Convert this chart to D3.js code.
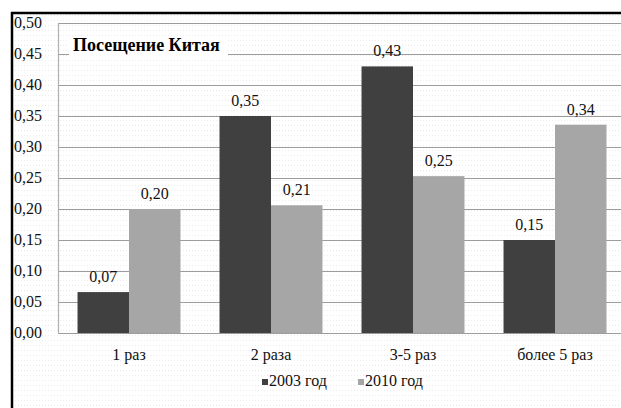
<!DOCTYPE html>
<html>
<head>
<meta charset="utf-8">
<script src="https://cdn.jsdelivr.net/npm/d3@7"></script>
<style>
  html, body { margin: 0; padding: 0; background: #fff; }
</style>
</head>
<body>
<script>
// Chart data
const categories = ["1 раз", "2 раза", "3-5 раз", "более 5 раз"];
const seriesNames = ["2003 год", "2010 год"];
const values2003 = [0.066, 0.35, 0.43, 0.15];
const values2010 = [0.20, 0.206, 0.253, 0.336];
const yTicks = [0, 0.05, 0.10, 0.15, 0.20, 0.25, 0.30, 0.35, 0.40, 0.45, 0.50];
const colors = ["#404040", "#a6a6a6"];

const width = 621, height = 408;
const plotLeft = 58, plotRight = 626, plotTop = 23, plotBottom = 333;
const serif = '"Liberation Serif", serif';

const fmt = d3.formatLocale({ decimal: ",", thousands: " ", grouping: [3], currency: ["", ""] }).format(".2f");

const svg = d3.select("body").append("svg")
    .attr("width", width)
    .attr("height", height);

// faint dotted background
const defs = svg.append("defs");
const pat = defs.append("pattern")
    .attr("id", "dots")
    .attr("width", 3).attr("height", 5)
    .attr("patternUnits", "userSpaceOnUse");
pat.append("rect").attr("width", 1).attr("height", 1).attr("fill", "#ececec");
svg.append("rect").attr("width", width).attr("height", height).attr("fill", "#fff");
svg.append("rect").attr("x", 13).attr("y", 14).attr("width", width).attr("height", height).attr("fill", "url(#dots)");

// scales
const x = d3.scaleBand()
    .domain(categories)
    .range([plotLeft, plotRight])
    .paddingInner(0.275)
    .paddingOuter(0.1375);

const xs = d3.scaleBand()
    .domain(seriesNames)
    .range([0, x.bandwidth()]);

const y = d3.scaleLinear()
    .domain([0, 0.5])
    .range([plotBottom, plotTop]);

// gridlines
svg.append("g")
  .selectAll("line")
  .data(yTicks)
  .join("line")
    .attr("x1", plotLeft)
    .attr("x2", plotRight)
    .attr("y1", d => Math.round(y(d)) + 0.5)
    .attr("y2", d => Math.round(y(d)) + 0.5)
    .attr("stroke", "#9c9c9c")
    .attr("stroke-width", 1.2);

// vertical axis line
svg.append("line")
    .attr("x1", plotLeft + 0.5).attr("x2", plotLeft + 0.5)
    .attr("y1", y(0.5)).attr("y2", y(0) + 1)
    .attr("stroke", "#b0b0b0")
    .attr("stroke-width", 1.2);

// y tick labels
svg.append("g")
  .selectAll("text")
  .data(yTicks)
  .join("text")
    .attr("x", 14)
    .attr("y", d => y(d) + 5)
    .style("font-family", serif)
    .style("font-size", "16px")
    .attr("fill", "#111")
    .text(d => fmt(d));

// bars
const rows = categories.map((c, i) => ({ cat: c, vals: [values2003[i], values2010[i]] }));

const groups = svg.append("g")
  .selectAll("g")
  .data(rows)
  .join("g")
    .attr("transform", d => `translate(${x(d.cat)},0)`);

groups.selectAll("rect")
  .data(d => d.vals.map((v, j) => ({ name: seriesNames[j], v, j })))
  .join("rect")
    .attr("x", d => xs(d.name))
    .attr("y", d => y(d.v))
    .attr("width", xs.bandwidth())
    .attr("height", d => y(0) - y(d.v))
    .attr("fill", d => colors[d.j]);

groups.selectAll("text")
  .data(d => d.vals.map((v, j) => ({ name: seriesNames[j], v, j })))
  .join("text")
    .attr("x", d => xs(d.name) + xs.bandwidth() / 2)
    .attr("y", d => y(d.v) - 10)
    .attr("text-anchor", "middle")
    .style("font-family", serif)
    .style("font-size", "16px")
    .attr("fill", "#111")
    .text(d => fmt(d.v));

// category labels
svg.append("g")
  .selectAll("text")
  .data(categories)
  .join("text")
    .attr("x", d => x(d) + x.bandwidth() / 2)
    .attr("y", plotBottom + 27)
    .attr("text-anchor", "middle")
    .style("font-family", serif)
    .style("font-size", "16px")
    .attr("fill", "#111")
    .text(d => d);

// title with white box over the gridline
svg.append("rect")
    .attr("x", 69).attr("y", 36)
    .attr("width", 159).attr("height", 24)
    .attr("fill", "#fff");
svg.append("text")
    .attr("x", 73)
    .attr("y", 51)
    .style("font-family", serif)
    .style("font-size", "18px")
    .style("font-weight", "bold")
    .attr("fill", "#000")
    .text("Посещение Китая");

// legend
const legendX = [262, 358];
const legend = svg.append("g")
  .selectAll("g")
  .data(seriesNames)
  .join("g")
    .attr("transform", (d, i) => `translate(${legendX[i]},379)`);
legend.append("rect")
    .attr("width", 6).attr("height", 6)
    .attr("fill", (d, i) => colors[i]);
legend.append("text")
    .attr("x", 7)
    .attr("y", 7)
    .style("font-family", serif)
    .style("font-size", "16px")
    .attr("fill", "#111")
    .text(d => d);

// black frame on top and left
svg.append("line")
    .attr("x1", 11).attr("x2", width)
    .attr("y1", 13).attr("y2", 13)
    .attr("stroke", "#000").attr("stroke-width", 2.5);
svg.append("line")
    .attr("x1", 12).attr("x2", 12)
    .attr("y1", 12).attr("y2", height)
    .attr("stroke", "#000").attr("stroke-width", 2.5);
</script>
</body>
</html>
